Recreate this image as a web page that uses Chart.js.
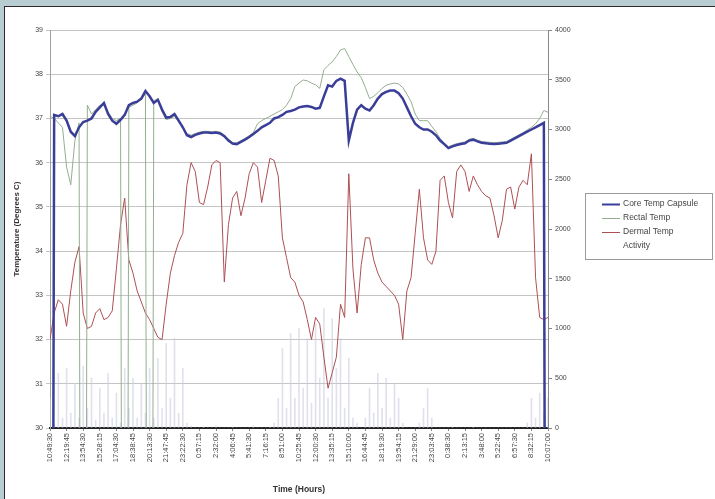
<!DOCTYPE html>
<html>
<head>
<meta charset="utf-8">
<script src="https://cdn.jsdelivr.net/npm/chart.js@4"></script>
<style>
  html, body { margin: 0; padding: 0; width: 715px; height: 499px; overflow: hidden; background: #b8cdd1; }
  #panel { position: absolute; left: 4px; top: 6px; width: 730px; height: 510px; background: #fff; border: 1px solid #2a2a2a; box-sizing: border-box; }
  #grafico { position: absolute; left: 0; top: 0; }
</style>
</head>
<body>
<div id="panel"><canvas id="grafico" width="715" height="493"></canvas></div>
<script>
// tick labels on the time axis (one every 4 samples)
const horas = ['10:49:30', '12:19:45', '13:54:30', '15:28:15', '17:04:30', '18:38:45', '20:13:30', '21:47:45',
  '23:22:30', '0:57:15', '2:32:00', '4:06:45', '5:41:30', '7:16:15', '8:51:00', '10:25:45', '12:00:30',
  '13:35:15', '15:10:00', '16:44:45', '18:19:30', '19:54:15', '21:29:00', '23:03:45', '0:38:30', '2:13:15',
  '3:48:00', '5:22:45', '6:57:30', '8:32:15', '10:07:00'];

const coreTemp = [0, 37.08, 37.05, 37.1, 36.95, 36.7, 36.6, 36.8, 36.92, 36.95,
  37.0, 37.15, 37.25, 37.35, 37.1, 36.95, 36.88, 36.97, 37.08, 37.3,
  37.35, 37.38, 37.45, 37.62, 37.5, 37.35, 37.42, 37.2, 37.02, 37.03,
  37.1, 36.95, 36.8, 36.62, 36.58, 36.63, 36.66, 36.68, 36.68, 36.67,
  36.68, 36.66, 36.6, 36.5, 36.43, 36.42, 36.47, 36.52, 36.58, 36.65,
  36.72, 36.8, 36.85, 36.9, 37.0, 37.03, 37.08, 37.15, 37.17, 37.2,
  37.25, 37.27, 37.28, 37.26, 37.22, 37.24, 37.5, 37.75, 37.72, 37.85,
  37.9, 37.85, 36.5, 36.9, 37.2, 37.3, 37.22, 37.18, 37.3, 37.45,
  37.55, 37.6, 37.63, 37.63, 37.57, 37.45, 37.25, 37.05, 36.88, 36.8,
  36.75, 36.75, 36.7, 36.62, 36.5, 36.42, 36.33, 36.37, 36.4, 36.42,
  36.44, 36.5, 36.52, 36.48, 36.45, 36.44, 36.43, 36.42, 36.43, 36.44,
  36.45, 36.5, 36.55, 36.6, 36.65, 36.7, 36.75, 36.8, 36.85, 36.9,
  0];

const rectalTemp = [37.05, 37.0, 36.9, 36.8, 35.9, 35.5, 36.5, 36.9, 0, 37.3,
  37.1, 37.2, 37.3, 37.3, 37.15, 37.0, 36.95, 37.0, 0, 37.25,
  37.3, 37.35, 37.45, 37.55, 0, 37.4, 37.45, 37.15, 36.97, 37.0,
  37.05, 36.92, 36.8, 36.66, 36.62, 36.66, 36.69, 36.71, 36.71, 36.7,
  36.71, 36.69, 36.63, 36.53, 36.46, 36.45, 36.5, 36.55, 36.61, 36.68,
  36.88, 36.95, 37.0, 37.05, 37.1, 37.15, 37.2, 37.3, 37.45, 37.72,
  37.8, 37.87, 37.85, 37.8, 37.76, 37.68, 38.1, 38.2, 38.28, 38.4,
  38.55, 38.58, 38.4, 38.22, 38.05, 37.92, 37.7, 37.45, 37.5, 37.58,
  37.68, 37.75, 37.78, 37.8, 37.78, 37.7, 37.55, 37.38, 37.1, 36.95,
  36.95, 36.95, 36.82, 36.7, 36.55, 36.44, 36.36, 36.4, 36.43, 36.45,
  36.47, 36.53, 36.55, 36.51, 36.48, 36.47, 36.46, 36.45, 36.46, 36.47,
  36.48, 36.53, 36.58, 36.63, 36.68, 36.74, 36.8, 36.88, 37.0, 37.18,
  37.14];

const dermalTemp = [32.0, 32.6, 32.9, 32.8, 32.3, 33.1, 33.75, 34.1, 32.6, 32.25,
  32.3, 32.6, 32.7, 32.45, 32.5, 32.65, 33.6, 34.6, 35.2, 33.8,
  33.5, 33.1, 32.85, 32.6, 32.45, 32.25, 32.05, 32.0, 32.8, 33.5,
  33.9, 34.2, 34.4, 35.5, 36.0, 35.8, 35.1, 35.05, 35.45, 35.95,
  36.05, 36.0, 33.3, 34.6, 35.2, 35.35, 34.8, 35.2, 35.75, 36.0,
  35.9, 35.1, 35.6, 36.1, 36.05, 35.7, 34.3, 33.85, 33.4, 33.3,
  33.0, 32.85, 32.45, 32.0, 32.5, 32.35, 31.6, 30.9, 31.25, 31.6,
  32.8, 32.5, 35.75, 33.6, 32.6, 33.7, 34.3, 34.3, 33.8, 33.5,
  33.3, 33.2, 33.1, 33.0, 32.8, 32.0, 33.1, 33.4, 34.4, 35.4,
  34.3, 33.8, 33.7, 34.0, 35.6, 35.7, 35.1, 34.75, 35.8, 35.95,
  35.8, 35.35, 35.7, 35.5, 35.35, 35.25, 35.2, 34.8, 34.3, 34.7,
  35.4, 35.45, 34.95, 35.45, 35.6, 35.5, 36.2, 33.4, 32.5, 32.45,
  32.5];

const actividad = [300, 50, 550, 100, 600, 150, 450, 100, 620, 200,
  500, 80, 400, 150, 550, 100, 350, 50, 600, 200,
  500, 100, 450, 150, 600, 100, 700, 200, 850, 300,
  900, 150, 600, 50, 20, 0, 0, 10, 0, 0,
  20, 0, 0, 0, 10, 0, 0, 0, 0, 20,
  0, 0, 0, 10, 50, 300, 800, 200, 950, 300,
  1000, 400, 900, 250, 1050, 500, 1200, 300, 1100, 600,
  900, 200, 700, 100, 50, 0, 100, 400, 150, 550,
  200, 500, 100, 450, 300, 50, 0, 0, 0, 50,
  200, 400, 100, 0, 0, 0, 0, 10, 0, 0,
  0, 0, 10, 0, 0, 0, 0, 0, 0, 0,
  0, 0, 0, 0, 0, 50, 300, 100, 350, 150,
  300];

const categorias = coreTemp.map((v, i) => (i % 4 === 0 ? horas[i / 4] : ''));

const fuente = 'Liberation Sans, Arial, sans-serif';

// legend drawn by hand so it sits at the exact spot of the original
const leyenda = {
  id: 'leyenda',
  afterDraw(chart) {
    const ctx = chart.ctx;
    ctx.save();
    ctx.strokeStyle = '#9a9a9a';
    ctx.lineWidth = 1;
    ctx.strokeRect(580.5, 186.5, 127, 66);
    ctx.font = '8.5px ' + fuente;
    ctx.textBaseline = 'middle';
    ctx.fillStyle = '#444';
    chart.data.datasets.forEach((ds, i) => {
      const y = 197 + i * 14;
      if (ds.type !== 'bar') {
        ctx.strokeStyle = ds.borderColor;
        ctx.lineWidth = Math.min(ds.borderWidth, 2);
        ctx.beginPath();
        ctx.moveTo(597, y + 0.5);
        ctx.lineTo(615, y + 0.5);
        ctx.stroke();
      }
      ctx.fillText(ds.label, 618, y);
    });
    ctx.restore();
  }
};

const ctx = document.getElementById('grafico').getContext('2d');
new Chart(ctx, {
  type: 'line',
  data: {
    labels: categorias,
    datasets: [
      { label: 'Core Temp Capsule', data: coreTemp, borderColor: '#3a3e98', borderWidth: 2.5, yAxisID: 'y', order: 1, clip: 0 },
      { label: 'Rectal Temp', data: rectalTemp, borderColor: '#94ae90', borderWidth: 1, yAxisID: 'y', order: 2, clip: 0 },
      { label: 'Dermal Temp', data: dermalTemp, borderColor: '#ad5055', borderWidth: 1, yAxisID: 'y', order: 3, clip: 0 },
      { label: 'Activity', type: 'bar', data: actividad, backgroundColor: 'rgba(205,205,225,0.6)', borderWidth: 0,
        barThickness: 1, yAxisID: 'y1', order: 4 }
    ]
  },
  options: {
    responsive: false,
    animation: false,
    layout: { padding: { left: 0, top: 23, right: 132, bottom: 0 } },
    elements: { point: { radius: 0 }, line: { tension: 0 } },
    plugins: { legend: { display: false }, tooltip: { enabled: false } },
    scales: {
      x: {
        type: 'category',
        offset: false,
        afterFit: s => { s.height = 72; },
        grid: {
          offset: false,
          drawOnChartArea: false,
          tickLength: 3,
          color: c => (c.index % 4 === 0 ? '#888' : 'rgba(0,0,0,0)')
        },
        border: { color: '#222', width: 2 },
        ticks: {
          autoSkip: false, minRotation: 90, maxRotation: 90, padding: 2,
          color: '#444', font: { family: fuente, size: 7.5 }
        },
        title: { display: true, text: 'Time (Hours)', color: '#333', padding: { top: 0, bottom: 5 },
          font: { family: fuente, size: 8.5, weight: 'bold' } }
      },
      y: {
        position: 'left',
        min: 30, max: 39,
        afterFit: s => { s.width = 45; },
        grid: { color: '#c4c4c4', lineWidth: 1, tickLength: 4 },
        border: { color: '#a0a0a0' },
        ticks: { stepSize: 1, padding: 3, color: '#444', font: { family: fuente, size: 7 } },
        title: { display: true, text: 'Temperature (Degrees C)', color: '#333', padding: { top: 7, bottom: 0 },
          font: { family: fuente, size: 8, weight: 'bold' } }
      },
      y1: {
        position: 'right',
        min: 0, max: 4000,
        afterFit: s => { s.width = 40; },
        grid: { drawOnChartArea: false, color: '#888', tickLength: 4 },
        border: { color: '#888' },
        ticks: { stepSize: 500, padding: 3, color: '#444', font: { family: fuente, size: 7 },
          callback: v => String(v) }
      }
    }
  },
  plugins: [leyenda]
});
</script>
</body>
</html>
